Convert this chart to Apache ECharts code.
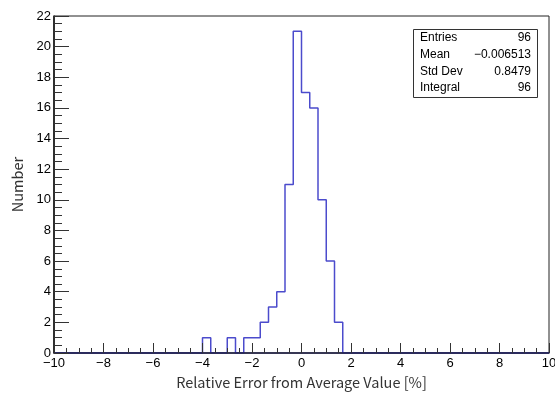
<!DOCTYPE html>
<html>
<head>
<meta charset="utf-8">
<script src="https://cdn.jsdelivr.net/npm/echarts@6/dist/echarts.min.js"></script>
<style>
html,body{margin:0;padding:0;background:#fff;}
#chart{width:555px;height:394px;}
</style>
</head>
<body>
<div id="chart"></div>
<script>
// Histogram: 60 bins from -10 to 10 (width 1/3)
var binLow = -10;
var binHigh = 10;
var counts = [
  0,0,0,0,0,0,0,0,0,0,
  0,0,0,0,0,0,0,0,1,0,
  0,1,0,1,1,2,3,4,11,21,
  17,16,10,6,2,0,0,0,0,0,
  0,0,0,0,0,0,0,0,0,0,
  0,0,0,0,0,0,0,0,0,0
];
var xTicks = [-10,-8,-6,-4,-2,0,2,4,6,8,10];
var yTicks = [0,2,4,6,8,10,12,14,16,18,20,22];
var statLabels = ['Entries','Mean','Std Dev','Integral'];
var statValues = ['96','\u22120.006513','0.8479','96'];
var xTitle = 'Relative Error from Average Value [%]';
var yTitle = 'Number';

var nb = counts.length;
var bw = (binHigh - binLow) / nb;
var stepData = [];
for (var i = 0; i < nb; i++) stepData.push([binLow + i * bw, counts[i]]);
stepData.push([binHigh, counts[nb - 1]]);

function fmt(v){ return v < 0 ? '\u2212' + Math.abs(v) : String(v); }

var chart = echarts.init(document.getElementById('chart'), null, {renderer:'canvas'});
var font = '"Liberation Sans", Arial, sans-serif';
var statGraphics = [{
  type:'rect', left:413, top:29, shape:{width:124, height:68},
  style:{fill:'#fff', stroke:'#333', lineWidth:1}, z:10
}];
var rowY = [38, 55, 72, 88];
for (var r = 0; r < statLabels.length; r++) {
  statGraphics.push({type:'text', x:420, y:rowY[r], z:11,
    style:{text:statLabels[r], font:'12px ' + font, fill:'#000', textVerticalAlign:'middle', textAlign:'left'}});
  statGraphics.push({type:'text', x:531, y:rowY[r], z:11,
    style:{text:statValues[r], font:'12px ' + font, fill:'#000', textVerticalAlign:'middle', textAlign:'right'}});
}

chart.setOption({
  animation:false,
  backgroundColor:'#fff',
  grid:{left:54, right:6, top:16, bottom:41, outerBoundsMode:'none', containLabel:false,
        show:true, borderColor:'#222', borderWidth:1, backgroundColor:'transparent'},
  xAxis:{
    type:'value', min:binLow, max:binHigh, interval:2, z:5,
    axisLine:{show:true, onZero:false, lineStyle:{color:'#1a1a40', width:1.5}},
    axisTick:{show:true, inside:true, length:10, lineStyle:{color:'#333'}},
    minorTick:{show:true, splitNumber:4, length:5, lineStyle:{color:'#333'}},
    splitLine:{show:false},
    axisLabel:{formatter:fmt, color:'#000', fontSize:13, fontFamily:font, margin:4, showMinLabel:true, showMaxLabel:true},
    name:xTitle, nameLocation:'middle', nameGap:22,
    nameTextStyle:{fontSize:14.5, color:'#333', fontFamily:'"Noto Sans CJK JP", "Noto Sans", sans-serif'}
  },
  yAxis:{
    type:'value', min:0, max:22, interval:2, z:5,
    axisLine:{show:true, onZero:false, lineStyle:{color:'#111', width:1.5}},
    axisTick:{show:true, inside:true, length:15, lineStyle:{color:'#333'}},
    minorTick:{show:true, splitNumber:4, length:8, lineStyle:{color:'#333'}},
    splitLine:{show:false},
    axisLabel:{color:'#000', fontSize:13, fontFamily:font, margin:3},
    name:yTitle, nameLocation:'middle', nameGap:29, nameRotate:90,
    nameTextStyle:{fontSize:14.5, color:'#333', fontFamily:'"Noto Sans CJK JP", "Noto Sans", sans-serif'}
  },
  series:[{
    type:'line', step:'end', data:stepData, symbol:'none', z:2,
    lineStyle:{color:'#4b4bcc', width:1.5}
  }],
  graphic:statGraphics
});
</script>
</body>
</html>
